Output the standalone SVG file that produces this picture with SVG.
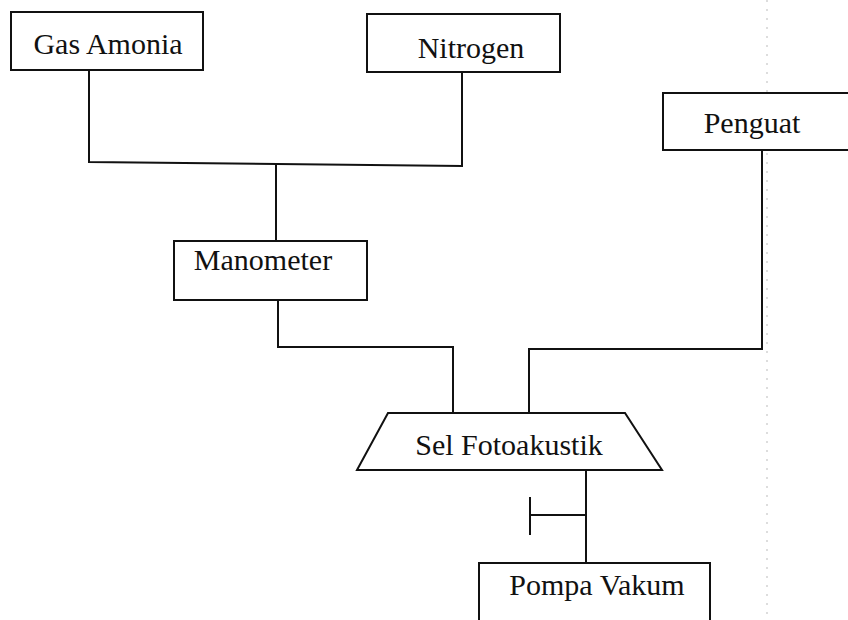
<svg xmlns="http://www.w3.org/2000/svg" width="848" height="620" viewBox="0 0 848 620">
<style>
.box{fill:#fff;stroke:#111;stroke-width:2}
.ln{fill:none;stroke:#111;stroke-width:2}
.t{font-family:"Liberation Serif","Times New Roman",serif;font-size:30px;fill:#111;text-anchor:middle}
</style>
<rect width="848" height="620" fill="#fff"/>
<line x1="767" y1="0" x2="767" y2="620" stroke="#bbb" stroke-width="1" stroke-dasharray="2 7"/>
<g id="connectors">
<polyline class="ln" points="89,70 89,162 462,166 462,72"/>
<line class="ln" x1="276" y1="164" x2="276" y2="241"/>
<polyline class="ln" points="278,300 278,347 453,347 453,413"/>
<polyline class="ln" points="762,150 762,349 529,349 529,413"/>
<line class="ln" x1="586" y1="470" x2="586" y2="563"/>
<line class="ln" x1="530" y1="515" x2="586" y2="515"/>
<line class="ln" x1="530" y1="497" x2="530" y2="535"/>
</g>
<g id="gas-amonia">
<rect class="box" x="11" y="12" width="192" height="58"/>
<text class="t" x="108" y="54">Gas Amonia</text>
</g>
<g id="nitrogen">
<rect class="box" x="367" y="14" width="193" height="58"/>
<text class="t" x="471" y="58">Nitrogen</text>
</g>
<g id="penguat">
<rect class="box" x="663" y="93" width="200" height="57"/>
<text class="t" x="752" y="133">Penguat</text>
</g>
<g id="manometer">
<rect class="box" x="174" y="241" width="193" height="59"/>
<text class="t" x="263" y="270">Manometer</text>
</g>
<g id="sel-fotoakustik">
<polygon class="box" points="388,413 625,413 662,470 357,470"/>
<text class="t" x="509" y="455">Sel Fotoakustik</text>
</g>
<g id="pompa-vakum">
<rect class="box" x="479" y="563" width="231" height="70"/>
<text class="t" x="597" y="595">Pompa Vakum</text>
</g>
</svg>
